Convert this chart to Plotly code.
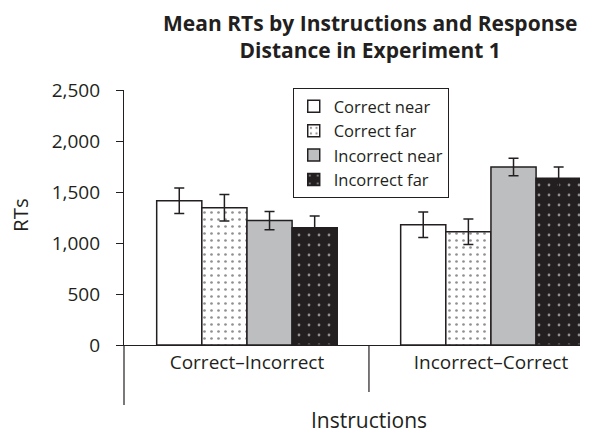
import plotly.graph_objects as go

groups = ["Correct\u2013Incorrect", "Incorrect\u2013Correct"]
series = ["Correct near", "Correct far", "Incorrect near", "Incorrect far"]
values = {
    "Correct near": [1415, 1180],
    "Correct far": [1345, 1110],
    "Incorrect near": [1220, 1745],
    "Incorrect far": [1150, 1635],
}
errors = {
    "Correct near": [125, 125],
    "Correct far": [130, 125],
    "Incorrect near": [90, 85],
    "Incorrect far": [115, 110],
}
y_ticks = [0, 500, 1000, 1500, 2000, 2500]

styles = {
    "Correct near": dict(color="white", pattern=None),
    "Correct far": dict(color="white", pattern=dict(shape=".", fgcolor="#231f20", bgcolor="white", size=7, solidity=0.12, fillmode="overlay")),
    "Incorrect near": dict(color="#bcbec0", pattern=None),
    "Incorrect far": dict(color="#231f20", pattern=dict(shape=".", fgcolor="white", bgcolor="#231f20", size=10, solidity=0.06, fillmode="overlay")),
}

xpos = list(range(len(groups)))
fig = go.Figure()
for s in series:
    st = styles[s]
    marker = dict(color=st["color"], line=dict(color="#231f20", width=1.5))
    if st["pattern"]:
        marker["pattern"] = st["pattern"]
    fig.add_trace(go.Bar(
        name=s, x=xpos, y=values[s],
        marker=marker,
        error_y=dict(type="data", array=errors[s], color="#231f20", thickness=1.5, width=5),
    ))

font_family = "Open Sans, Lato, sans-serif"
fig.update_layout(
    width=600, height=426,
    margin=dict(l=116, r=28, t=82, b=89, autoexpand=False),
    paper_bgcolor="white", plot_bgcolor="white",
    barmode="group", bargap=0.26, bargroupgap=0,
    font=dict(family=font_family, size=15, color="#231f20"),
    showlegend=True,
    legend=dict(x=0.37, xanchor="left", y=1.008, yanchor="top",
                bordercolor="#231f20", borderwidth=1, bgcolor="white",
                font=dict(size=16.5), tracegroupgap=0, itemwidth=30),
    xaxis=dict(range=[-0.504, 1.365], tickvals=xpos, ticktext=groups,
               showline=True, linecolor="#231f20", linewidth=1.2,
               ticks="", showgrid=False, zeroline=False, automargin=False,
               tickfont=dict(size=19)),
    yaxis=dict(range=[0, 2500], tickvals=y_ticks, tickformat=",",
               showline=True, linecolor="#231f20", linewidth=1.2,
               ticks="outside", ticklen=7, tickcolor="#231f20",
               ticklabelstandoff=12,
               showgrid=False, zeroline=False, automargin=False,
               tickfont=dict(size=19)),
    shapes=[
        dict(type="line", xref="paper", yref="paper", x0=0, x1=0, y0=0, y1=-0.235,
             line=dict(color="#231f20", width=1.2)),
        dict(type="line", xref="x", yref="paper", x0=0.5, x1=0.5, y0=0, y1=-0.184,
             line=dict(color="#231f20", width=1.2)),
    ],
    annotations=[
        dict(text="<b>Mean RTs by Instructions and Response<br>Distance in Experiment 1</b>",
             xref="paper", yref="paper", x=0.539, y=1.21,
             xanchor="center", yanchor="middle", showarrow=False,
             font=dict(size=21)),
        dict(text="Instructions", xref="x", yref="paper", x=0.5, y=-0.294,
             xanchor="center", yanchor="middle", showarrow=False,
             font=dict(size=21)),
        dict(text="RTs", xref="paper", yref="paper", x=-0.228, y=0.51,
             xanchor="center", yanchor="middle", showarrow=False, textangle=-90,
             font=dict(size=20.5)),
    ],
)

fig.write_html("out.html")
